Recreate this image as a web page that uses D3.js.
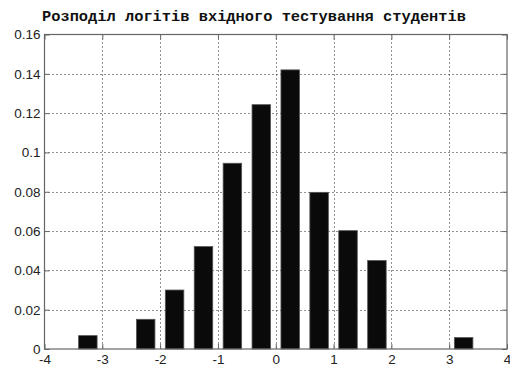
<!DOCTYPE html>
<html>
<head>
<meta charset="utf-8">
<script src="https://cdn.jsdelivr.net/npm/d3@7"></script>
<style>
  html, body { margin: 0; padding: 0; background: #fff; }
  svg { display: block; }
</style>
</head>
<body>
<svg id="chart" width="510" height="367"></svg>
<script>
// Histogram of student entry-test logits (bin width 0.5)
const titleText = "Розподіл логітів вхідного тестування студентів";
const binCenters = [-3.25, -2.25, -1.75, -1.25, -0.75, -0.25, 0.25, 0.75, 1.25, 1.75, 3.25];
const frequencies = [0.0068, 0.0151, 0.0300, 0.0521, 0.0945, 0.1243, 0.1420, 0.0797, 0.0602, 0.0450, 0.0058];
const xTicks = [-4, -3, -2, -1, 0, 1, 2, 3, 4];
const yTicks = [0, 0.02, 0.04, 0.06, 0.08, 0.1, 0.12, 0.14, 0.16];

const svg = d3.select("#chart");
const plotL = 44.5, plotR = 507, plotT = 34.5, plotB = 349;

const x = d3.scaleLinear().domain([-4, 4]).range([plotL, plotR]);
const y = d3.scaleLinear().domain([0, 0.16]).range([plotB, plotT]);
const barW = x(0.32) - x(0);

// dotted grid
const grid = svg.append("g").attr("stroke", "#222").attr("stroke-width", 1)
  .attr("stroke-dasharray", "1,3");
grid.selectAll("line.gx").data(xTicks.slice(1, -1)).join("line")
  .attr("x1", d => Math.round(x(d)) + 0.5).attr("x2", d => Math.round(x(d)) + 0.5)
  .attr("y1", plotT).attr("y2", plotB);
grid.selectAll("line.gy").data(yTicks.slice(1, -1)).join("line")
  .attr("y1", d => Math.round(y(d)) + 0.5).attr("y2", d => Math.round(y(d)) + 0.5)
  .attr("x1", plotL).attr("x2", plotR);

// bars
svg.append("g").selectAll("rect").data(binCenters).join("rect")
  .attr("x", (d) => x(d) - barW / 2)
  .attr("width", barW)
  .attr("y", (d, i) => y(frequencies[i]))
  .attr("height", (d, i) => y(0) - y(frequencies[i]))
  .attr("fill", "#0a0a0a")
  .attr("stroke", "#555")
  .attr("stroke-width", 0.8);

// axes with inward ticks on all four sides
const axisColor = "#666";
const fmt = d => d === 0 ? "0" : String(+d.toFixed(2));
const styleAxis = g => {
  g.select(".domain").remove();
  g.selectAll(".tick line").attr("stroke", axisColor);
  g.selectAll(".tick text").attr("fill", "#222")
    .attr("font-family", "Liberation Sans, Arial, sans-serif").attr("font-size", 13.5);
};
svg.append("g").attr("transform", `translate(0,${plotB})`)
  .call(d3.axisBottom(x).tickValues(xTicks).tickSize(-5).tickPadding(5.5).tickFormat(fmt))
  .call(styleAxis);
svg.append("g").attr("transform", `translate(0,${plotT})`)
  .call(d3.axisTop(x).tickValues(xTicks).tickSize(-5).tickFormat(""))
  .call(styleAxis);
svg.append("g").attr("transform", `translate(${plotL},0)`)
  .call(d3.axisLeft(y).tickValues(yTicks).tickSize(-5).tickPadding(4).tickFormat(fmt))
  .call(styleAxis);
svg.append("g").attr("transform", `translate(${plotR},0)`)
  .call(d3.axisRight(y).tickValues(yTicks).tickSize(-5).tickFormat(""))
  .call(styleAxis);

// frame
svg.append("rect").attr("x", plotL).attr("y", plotT)
  .attr("width", plotR - plotL).attr("height", plotB - plotT)
  .attr("fill", "none").attr("stroke", axisColor).attr("stroke-width", 1.2);

// title
svg.append("text").attr("x", 254).attr("y", 21).attr("text-anchor", "middle")
  .attr("font-family", "Liberation Mono, DejaVu Sans Mono, monospace")
  .attr("font-weight", "bold").attr("font-size", 15)
  .attr("textLength", 424).attr("lengthAdjust", "spacingAndGlyphs")
  .attr("fill", "#111").text(titleText);
</script>
</body>
</html>
